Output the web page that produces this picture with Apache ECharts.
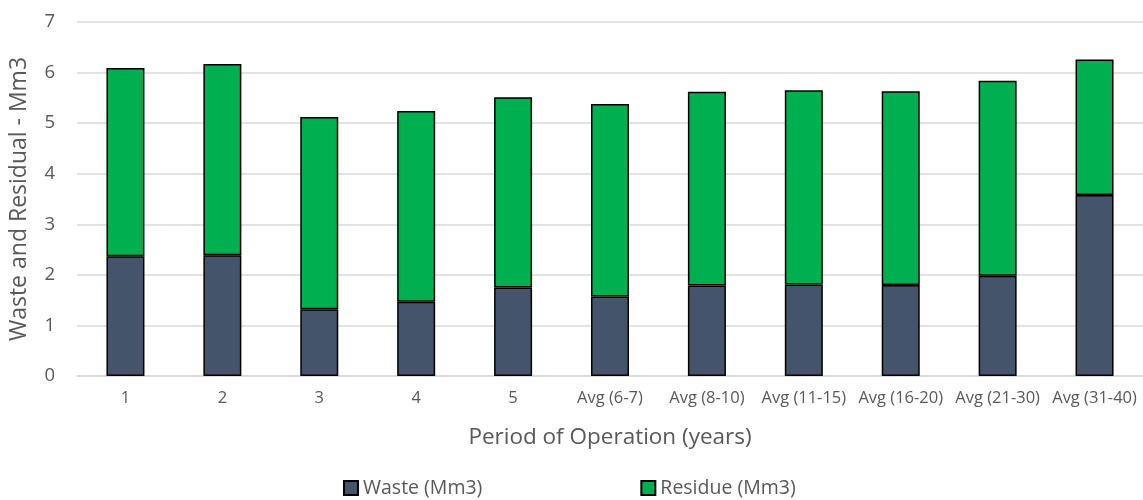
<!DOCTYPE html>
<html lang="en">
<head>
    <meta charset="UTF-8">
    <title>Waste and Residual</title>
    <script src="https://cdn.jsdelivr.net/npm/echarts@6/dist/echarts.min.js"></script>
    <style>
        html, body { margin: 0; padding: 0; background: #fff; }
        #chart { width: 1143px; height: 500px; }
    </style>
</head>
<body>
    <div id="chart"></div>
    <script>
        // data
        var periods = ['1', '2', '3', '4', '5', 'Avg (6-7)', 'Avg (8-10)', 'Avg (11-15)', 'Avg (16-20)', 'Avg (21-30)', 'Avg (31-40)'];
        var waste = [2.37, 2.39, 1.32, 1.47, 1.75, 1.57, 1.79, 1.81, 1.80, 1.98, 3.58];
        var residue = [3.72, 3.78, 3.80, 3.77, 3.76, 3.81, 3.83, 3.84, 3.83, 3.86, 2.68];
        var yTicks = [0, 1, 2, 3, 4, 5, 6, 7];

        var font = '"Open Sans", "Noto Sans", sans-serif';
        var myChart = echarts.init(document.getElementById('chart'));
        var option = {
            animation: false,
            textStyle: { fontFamily: font },
            grid: { left: 77, right: 0, top: 22, bottom: 124 },
            legend: {
                left: 343,
                top: 478,
                padding: 0,
                icon: 'rect',
                itemWidth: 14,
                itemHeight: 14,
                itemGap: 158,
                textStyle: { fontSize: 19.5, color: '#595959', fontFamily: font },
                data: ['Waste (Mm3)', 'Residue (Mm3)']
            },
            xAxis: {
                type: 'category',
                data: periods,
                name: 'Period of Operation (years)',
                nameLocation: 'middle',
                nameGap: 50,
                nameTextStyle: { fontSize: 22.5, color: '#595959' },
                axisLine: { lineStyle: { color: '#D9D9D9', width: 1.5 } },
                axisTick: { show: false },
                axisLabel: { fontSize: 16.5, color: '#595959', margin: 14, interval: 0 }
            },
            yAxis: {
                type: 'value',
                min: yTicks[0],
                max: yTicks[yTicks.length - 1],
                interval: 1,
                name: 'Waste and Residual - Mm3',
                nameLocation: 'middle',
                nameGap: 46,
                nameTextStyle: { fontSize: 23, color: '#595959' },
                axisLine: { show: false },
                axisTick: { show: false },
                axisLabel: { fontSize: 18.5, color: '#595959', margin: 22 },
                splitLine: { lineStyle: { color: '#D9D9D9', width: 1.5 } }
            },
            series: [
                {
                    name: 'Waste (Mm3)',
                    type: 'bar',
                    stack: 'total',
                    barWidth: 38,
                    itemStyle: { color: '#44546A', borderColor: '#000', borderWidth: 1.5 },
                    data: waste
                },
                {
                    name: 'Residue (Mm3)',
                    type: 'bar',
                    stack: 'total',
                    barWidth: 38,
                    itemStyle: { color: '#00B050', borderColor: '#000', borderWidth: 1.5 },
                    data: residue
                }
            ]
        };
        myChart.setOption(option);
    </script>
</body>
</html>
